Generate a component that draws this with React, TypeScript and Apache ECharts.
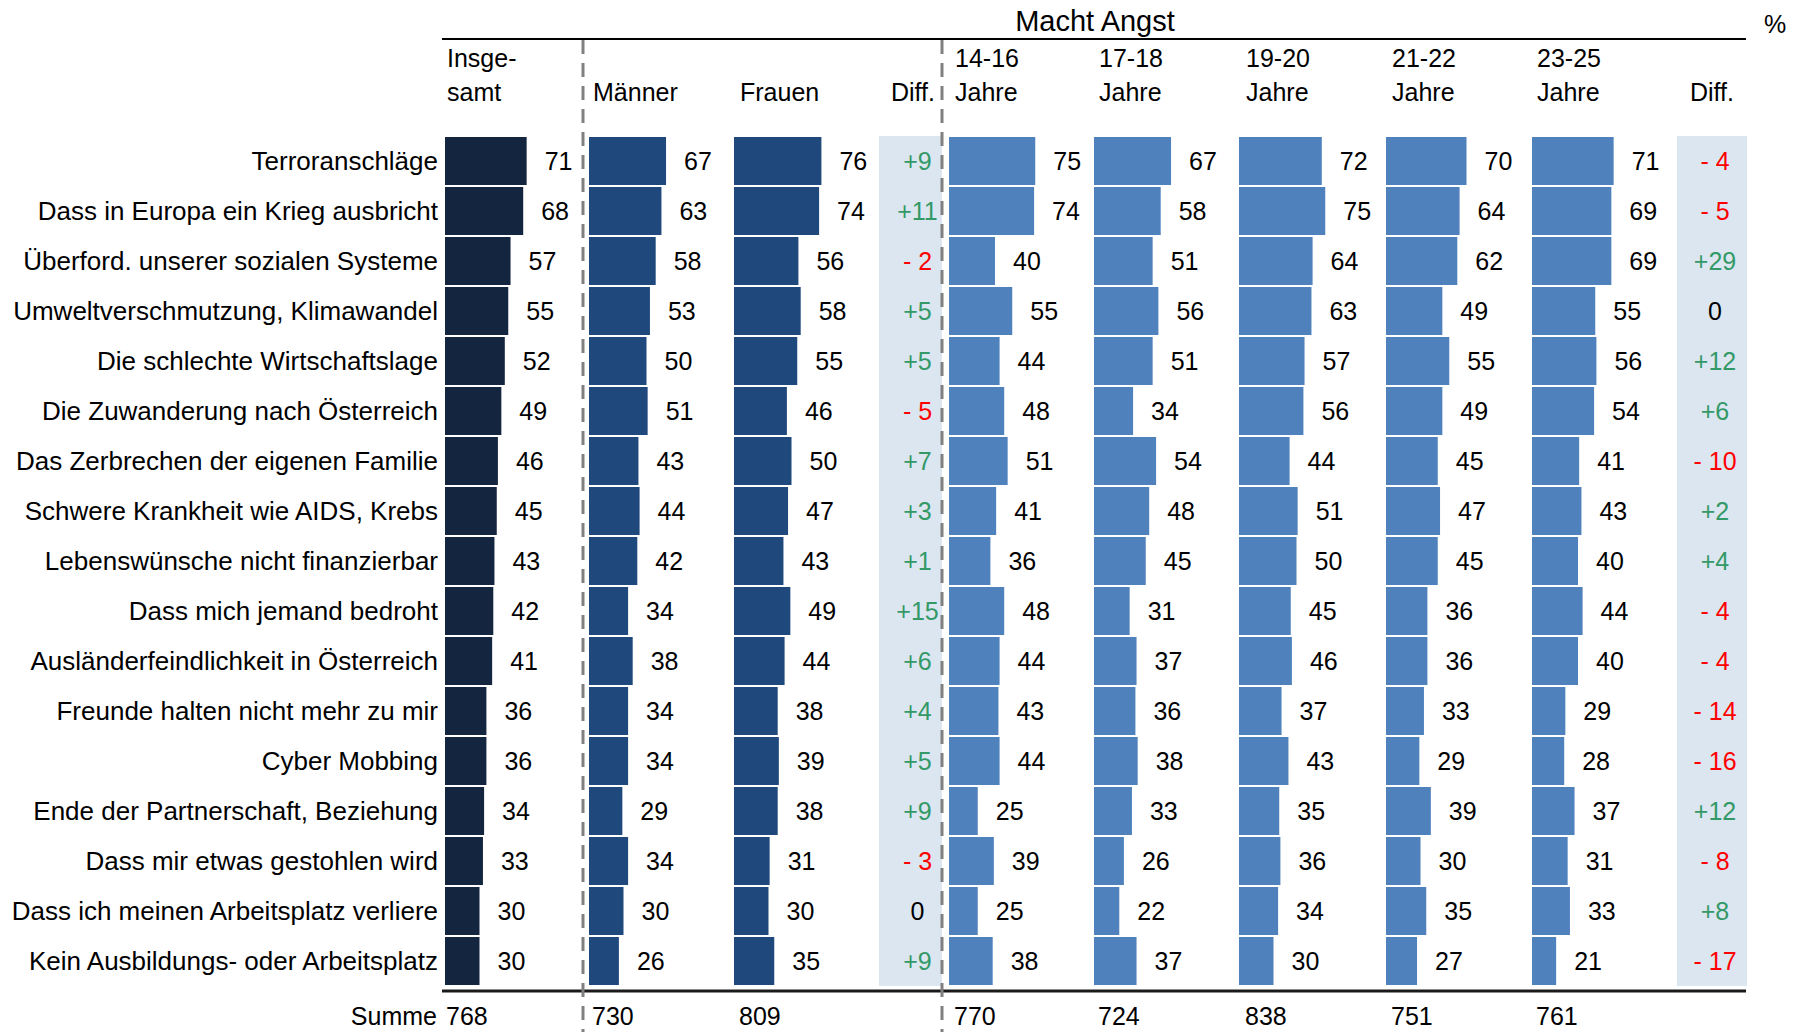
import React, { useEffect, useRef } from "react";
import * as echarts from "echarts";

// Ängste junger Menschen in Österreich, Anteil "macht Angst" in %
const categories = [
  "Terroranschläge",
  "Dass in Europa ein Krieg ausbricht",
  "Überford. unserer sozialen Systeme",
  "Umweltverschmutzung, Klimawandel",
  "Die schlechte Wirtschaftslage",
  "Die Zuwanderung nach Österreich",
  "Das Zerbrechen der eigenen Familie",
  "Schwere Krankheit wie AIDS, Krebs",
  "Lebenswünsche nicht finanzierbar",
  "Dass mich jemand bedroht",
  "Ausländerfeindlichkeit in Österreich",
  "Freunde halten nicht mehr zu mir",
  "Cyber Mobbing",
  "Ende der Partnerschaft, Beziehung",
  "Dass mir etwas gestohlen wird",
  "Dass ich meinen Arbeitsplatz verliere",
  "Kein Ausbildungs- oder Arbeitsplatz",
];

const insgesamt = [71, 68, 57, 55, 52, 49, 46, 45, 43, 42, 41, 36, 36, 34, 33, 30, 30];
const maenner = [67, 63, 58, 53, 50, 51, 43, 44, 42, 34, 38, 34, 34, 29, 34, 30, 26];
const frauen = [76, 74, 56, 58, 55, 46, 50, 47, 43, 49, 44, 38, 39, 38, 31, 30, 35];
const diffGeschlecht = [9, 11, -2, 5, 5, -5, 7, 3, 1, 15, 6, 4, 5, 9, -3, 0, 9];
const alter1416 = [75, 74, 40, 55, 44, 48, 51, 41, 36, 48, 44, 43, 44, 25, 39, 25, 38];
const alter1718 = [67, 58, 51, 56, 51, 34, 54, 48, 45, 31, 37, 36, 38, 33, 26, 22, 37];
const alter1920 = [72, 75, 64, 63, 57, 56, 44, 51, 50, 45, 46, 37, 43, 35, 36, 34, 30];
const alter2122 = [70, 64, 62, 49, 55, 49, 45, 47, 45, 36, 36, 33, 29, 39, 30, 35, 27];
const alter2325 = [71, 69, 69, 55, 56, 54, 41, 43, 40, 44, 40, 29, 28, 37, 31, 33, 21];
const diffAlter = [-4, -5, 29, 0, 12, 6, -10, 2, 4, -4, -4, -14, -16, 12, -8, 8, -17];

const headerTop = ["Insge-", "", "", "14-16", "17-18", "19-20", "21-22", "23-25"];
const headerBottom = ["samt", "Männer", "Frauen", "Jahre", "Jahre", "Jahre", "Jahre", "Jahre"];
const summen = [768, 730, 809, 770, 724, 838, 751, 761];

const FONT = '"Liberation Sans", Arial, Helvetica, sans-serif';
const FS = 25;

const DARK = "#13253F";
const MID = "#1F497D";
const LIGHT = "#4F81BD";
const BAND = "#DCE6F1";
const GREEN = "#339966";
const RED = "#FF0000";

// layout
const GRID_TOP = 136;
const GRID_HEIGHT = 850;
const BAR_WIDTH_PX = 115; // 100 % of scale
const barColumns = [
  { data: insgesamt, left: 445, color: DARK },
  { data: maenner, left: 589, color: MID },
  { data: frauen, left: 734, color: MID },
  { data: alter1416, left: 949, color: LIGHT },
  { data: alter1718, left: 1094, color: LIGHT },
  { data: alter1920, left: 1239, color: LIGHT },
  { data: alter2122, left: 1386, color: LIGHT },
  { data: alter2325, left: 1532, color: LIGHT },
];
const headerX = [447, 593, 740, 955, 1099, 1246, 1392, 1537];
const diffColumns = [
  { data: diffGeschlecht, left: 879, width: 63, textShift: 7 },
  { data: diffAlter, left: 1677, width: 70, textShift: 3 },
];

function fmtDiff(v: number): string {
  if (v > 0) return "+" + v;
  if (v < 0) return "- " + Math.abs(v);
  return "0";
}
function diffColor(v: number): string {
  if (v > 0) return GREEN;
  if (v < 0) return RED;
  return "#000";
}

function textEl(text: string, x: number, y: number, align: string, size = FS) {
  return {
    type: "text",
    x,
    y,
    z: 50,
    style: {
      text,
      fill: "#000",
      fontSize: size,
      fontFamily: FONT,
      align,
      textAlign: align,
      verticalAlign: "middle",
      textVerticalAlign: "middle",
    },
  };
}

export default function App() {
  const ref = useRef<HTMLDivElement>(null);

  useEffect(() => {
    if (!ref.current) return;
    const chart = echarts.init(ref.current, undefined, { renderer: "svg" });

    const grids: any[] = [];
    const xAxes: any[] = [];
    const yAxes: any[] = [];
    const series: any[] = [];

    barColumns.forEach((col, i) => {
      grids.push({
        left: col.left,
        top: GRID_TOP,
        width: BAR_WIDTH_PX,
        height: GRID_HEIGHT,
        outerBoundsMode: "none",
        containLabel: false,
      });
      xAxes.push({ type: "value", gridIndex: i, min: 0, max: 100, show: false });
      yAxes.push({
        type: "category",
        gridIndex: i,
        data: categories,
        inverse: true,
        show: i === 0,
        axisLine: { show: false },
        axisTick: { show: false },
        splitLine: { show: false },
        axisLabel: {
          show: i === 0,
          fontSize: 26,
          fontFamily: FONT,
          color: "#000",
          margin: 7,
        },
      });
      series.push({
        type: "bar",
        xAxisIndex: i,
        yAxisIndex: i,
        data: col.data,
        barCategoryGap: "4%",
        itemStyle: { color: col.color },
        label: {
          show: true,
          position: "right",
          distance: 18,
          fontSize: FS,
          fontFamily: FONT,
          color: "#000",
        },
      });
    });

    diffColumns.forEach((col) => {
      const gi = grids.length;
      grids.push({
        left: col.left,
        top: GRID_TOP,
        width: col.width,
        height: GRID_HEIGHT,
        outerBoundsMode: "none",
        containLabel: false,
      });
      xAxes.push({ type: "value", gridIndex: gi, min: -1, max: 1, show: false });
      yAxes.push({ type: "category", gridIndex: gi, data: categories, inverse: true, show: false });
      series.push({
        type: "custom",
        xAxisIndex: gi,
        yAxisIndex: gi,
        z: 1,
        encode: { x: 0, y: 1 },
        data: col.data.map((d, idx) => [d, idx]),
        renderItem: (params: any, api: any) => {
          const d = api.value(0) as number;
          const idx = api.value(1) as number;
          const c = api.coord([0, idx]);
          const h = api.size([0, 1])[1];
          const cs = params.coordSys;
          return {
            type: "group",
            children: [
              {
                type: "rect",
                shape: { x: cs.x, y: c[1] - h / 2, width: cs.width, height: h },
                style: { fill: BAND },
              },
              {
                type: "text",
                x: c[0] + col.textShift,
                y: c[1],
                style: {
                  text: fmtDiff(d),
                  fill: diffColor(d),
                  fontSize: FS,
                  fontFamily: FONT,
                  align: "center",
                  verticalAlign: "middle",
                },
              },
            ],
          };
        },
      });
    });

    const graphics: any[] = [];
    // title and unit
    graphics.push(textEl("Macht Angst", 1095, 21, "center", 29));
    graphics.push(textEl("%", 1775, 24, "center", 25));
    // frame lines
    graphics.push({
      type: "line",
      z: 40,
      shape: { x1: 442, y1: 39, x2: 1746, y2: 39 },
      style: { stroke: "#000", lineWidth: 2 },
    });
    graphics.push({
      type: "line",
      z: 40,
      shape: { x1: 442, y1: 991, x2: 1746, y2: 991 },
      style: { stroke: "#1a1a1a", lineWidth: 3 },
    });
    [583, 942].forEach((x) => {
      graphics.push({
        type: "line",
        z: 45,
        shape: { x1: x, y1: 40, x2: x, y2: 1032 },
        style: { stroke: "#808080", lineWidth: 3, lineDash: [14, 9] },
      });
    });
    // column headers
    headerX.forEach((x, i) => {
      if (headerTop[i]) graphics.push(textEl(headerTop[i], x, 58, "left"));
      graphics.push(textEl(headerBottom[i], x, 92, "left"));
    });
    graphics.push(textEl("Diff.", 935, 92, "right"));
    graphics.push(textEl("Diff.", 1690, 92, "left"));
    // sums
    graphics.push(textEl("Summe", 437, 1016, "right", 25));
    summen.forEach((s, i) => {
      graphics.push(textEl(String(s), headerX[i] - 1, 1016, "left"));
    });

    chart.setOption({
      animation: false,
      backgroundColor: "#ffffff",
      textStyle: { fontFamily: FONT },
      grid: grids,
      xAxis: xAxes,
      yAxis: yAxes,
      series,
      graphic: { elements: graphics },
    });

    return () => chart.dispose();
  }, []);

  return (
    <div
      ref={ref}
      style={{ position: "absolute", left: 0, top: 0, width: 1799, height: 1032 }}
    />
  );
}
